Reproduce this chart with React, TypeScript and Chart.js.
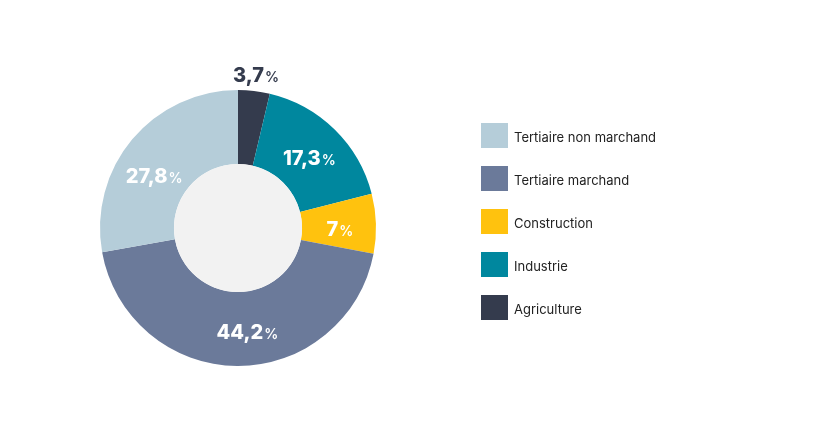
import React, { useEffect, useRef } from "react";
import { Chart, registerables } from "chart.js";

Chart.register(...registerables);

const categories = ["Agriculture", "Industrie", "Construction", "Tertiaire marchand", "Tertiaire non marchand"];
const values = [3.7, 17.3, 7, 44.2, 27.8];
const valueLabels = ["3,7", "17,3", "7", "44,2", "27,8"];
const colors = ["#343b4d", "#00879e", "#ffc20e", "#6b7a9a", "#b5cdd9"];
const legendOrder = [4, 3, 2, 1, 0];
const labelShiftX = [0, 2, 3, 10, -8];
const labelShiftY = [1, 1, 4, 5, 12];

const FONT = "Inter, 'Noto Sans', sans-serif";

const labelPlugin = {
  id: "sliceLabels",
  afterDatasetsDraw(chart: any) {
    const ctx = chart.ctx;
    const meta = chart.getDatasetMeta(0);
    const first = meta.data[0];
    ctx.save();
    ctx.beginPath();
    ctx.arc(first.x, first.y, first.innerRadius, 0, Math.PI * 2);
    ctx.fillStyle = "#f2f2f2";
    ctx.fill();
    ctx.restore();

    meta.data.forEach((arc: any, i: number) => {
      const mid = (arc.startAngle + arc.endAngle) / 2;
      let r = (arc.innerRadius + arc.outerRadius) / 2 - 2;
      let color = "#ffffff";
      if (values[i] < 5) {
        r = arc.outerRadius + 17;
        color = "#343b4d";
      }
      const x = arc.x + Math.cos(mid) * r + labelShiftX[i];
      const y = arc.y + Math.sin(mid) * r + labelShiftY[i];
      ctx.save();
      ctx.textBaseline = "alphabetic";
      ctx.textAlign = "left";
      const numFont = `800 20px ${FONT}`;
      const pctFont = `600 14px ${FONT}`;
      ctx.font = numFont;
      const w1 = ctx.measureText(valueLabels[i]).width;
      ctx.font = pctFont;
      const w2 = ctx.measureText("%").width;
      const total = w1 + 1 + w2;
      const sx = x - total / 2;
      const by = y + 7;
      ctx.fillStyle = color;
      ctx.font = numFont;
      ctx.fillText(valueLabels[i], sx, by);
      ctx.font = pctFont;
      ctx.fillText("%", sx + w1 + 1, by);
      ctx.restore();
    });

    ctx.save();
    legendOrder.forEach((idx, k) => {
      const y = 123 + k * 43;
      ctx.fillStyle = colors[idx];
      ctx.fillRect(481, y, 27, 25);
      ctx.fillStyle = "#222222";
      ctx.font = `13px ${FONT}`;
      ctx.textBaseline = "middle";
      ctx.textAlign = "left";
      ctx.fillText(categories[idx], 514, y + 15);
    });
    ctx.restore();
  },
};

export default function App() {
  const ref = useRef<HTMLCanvasElement>(null);
  useEffect(() => {
    if (!ref.current) return;
    const chart = new Chart(ref.current, {
      type: "doughnut",
      data: {
        labels: categories,
        datasets: [
          {
            data: values,
            backgroundColor: colors,
            borderWidth: 0,
          },
        ],
      },
      options: {
        responsive: false,
        animation: false,
        cutout: "46.4%",
        layout: { padding: { left: 100, top: 90, right: 438, bottom: 62 } },
        plugins: {
          legend: { display: false },
          tooltip: { enabled: false },
        },
      },
      plugins: [labelPlugin],
    });
    return () => chart.destroy();
  }, []);
  return (
    <div style={{ position: "fixed", left: 0, top: 0, width: 814, height: 428, background: "#fff" }}>
      <canvas ref={ref} width={814} height={428} style={{ width: 814, height: 428 }} />
    </div>
  );
}
